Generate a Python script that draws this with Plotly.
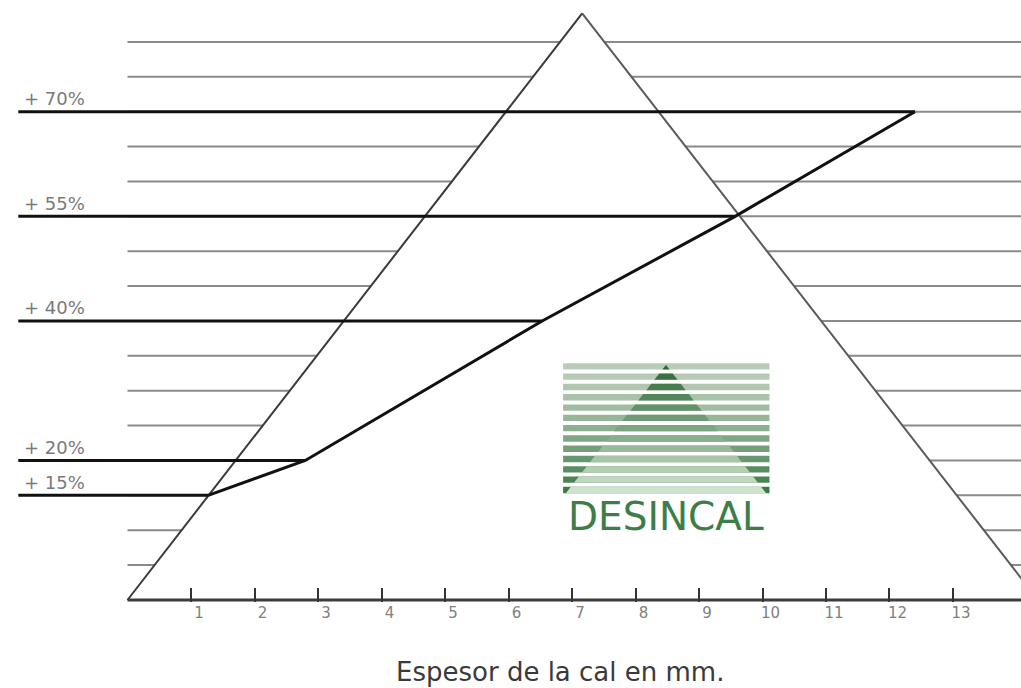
import plotly.graph_objects as go

# ---------------- data ----------------
grid_levels = [5, 10, 15, 20, 25, 30, 35, 40, 45, 50, 55, 60, 65, 70, 75, 80]   # % lines
label_levels = [15, 20, 40, 55, 70]
label_texts = ["+ 15%", "+ 20%", "+ 40%", "+ 55%", "+ 70%"]
curve_mm = [1.27, 2.80, 6.53, 9.57, 12.40]      # thickness of lime (mm)
curve_pct = [15, 20, 40, 55, 70]                # efficiency loss (%)
tri_mm = [0, 7.16, 14.34]
tri_pct = [0, 84.1, 0]
tick_vals = [1, 2, 3, 4, 5, 6, 7, 8, 9, 10, 11, 12, 13]
tick_text = ["1", "2", "3", "4", "5", "6", "7", "8", "9", "10", "11", "12", "13"]
x_title = "Espesor de la cal en mm."
brand = "DESINCAL"

# ---------------- layout constants ----------------
FIG_W, FIG_H = 1021, 688
MARGIN_B = 86
PLOT_H = FIG_H - MARGIN_B
X_RANGE = [-2.008, 14.071]
Y_RANGE = [-0.287, 86.02]
LINE_START = -1.72
GRID_END = 14.6
FONT = "DejaVu Sans"

fig = go.Figure()

# gray background grid lines (full width, hidden inside the triangle)
gx, gy = [], []
for lv in grid_levels:
    gx += [0, GRID_END, None]
    gy += [lv, lv, None]
fig.add_trace(go.Scatter(x=gx, y=gy, mode="lines",
                         line=dict(color="#8a8a8a", width=2),
                         hoverinfo="skip", showlegend=False))

# white triangle covering the grid
fig.add_trace(go.Scatter(x=tri_mm + [tri_mm[0]], y=tri_pct + [tri_pct[0]],
                         mode="lines", fill="toself", fillcolor="white",
                         line=dict(width=0, color="white"),
                         hoverinfo="skip", showlegend=False))
# triangle edges
fig.add_trace(go.Scatter(x=tri_mm[:2], y=tri_pct[:2], mode="lines",
                         line=dict(color="#3a3a3a", width=2),
                         hoverinfo="skip", showlegend=False))
fig.add_trace(go.Scatter(x=tri_mm[1:], y=tri_pct[1:], mode="lines",
                         line=dict(color="#5a5a5a", width=2),
                         hoverinfo="skip", showlegend=False))

# labelled black lines from the label to the curve
bx, by = [], []
for lv in label_levels:
    xe = curve_mm[curve_pct.index(lv)]
    bx += [LINE_START, xe, None]
    by += [lv, lv, None]
fig.add_trace(go.Scatter(x=bx, y=by, mode="lines",
                         line=dict(color="#111111", width=3),
                         hoverinfo="skip", showlegend=False))

# curve
fig.add_trace(go.Scatter(x=curve_mm, y=curve_pct, mode="lines",
                         line=dict(color="#111111", width=3),
                         hoverinfo="skip", showlegend=False))

# base axis line
fig.add_trace(go.Scatter(x=[0, GRID_END], y=[0, 0], mode="lines",
                         line=dict(color="#3c3c3c", width=3),
                         hoverinfo="skip", showlegend=False))

# label annotations
annotations = []
for lv, txt in zip(label_levels, label_texts):
    annotations.append(dict(x=-1.66, y=lv + 1.9, xref="x", yref="y", text=txt,
                            showarrow=False, xanchor="left", yanchor="middle",
                            font=dict(family=FONT, size=18, color="#7a7a7a")))

# x title
annotations.append(dict(x=560 / FIG_W, y=(PLOT_H - 672) / PLOT_H,
                        xref="paper", yref="paper",
                        text=x_title, showarrow=False, xanchor="center", yanchor="middle",
                        font=dict(family=FONT, size=26, color="#3a3a3a")))

# ---------------- logo (decoration) ----------------
LX0, LX1, LXC = 6.86, 10.11, 8.48
LY_TOP, LY_BOT, APEX = 33.95, 14.76, 33.7
N_STRIPES = 13
PERIOD = (LY_TOP - LY_BOT) / N_STRIPES
THICK = PERIOD * 0.62


def mix(c1, c2, t):
    a = [int(c1[i:i + 2], 16) for i in (1, 3, 5)]
    b = [int(c2[i:i + 2], 16) for i in (1, 3, 5)]
    return "#" + "".join(f"{round(a[k] + (b[k] - a[k]) * t):02x}" for k in range(3))


def half_w(y):
    return (APEX - y) / (APEX - LY_BOT) * (LX1 - LX0) / 2


shapes = []
for i in range(N_STRIPES):
    t = i / (N_STRIPES - 1)
    y1 = LY_TOP - i * PERIOD
    y0 = y1 - THICK
    outside = mix("#b9ccb8", "#3a7a45", t ** 1.5)
    inside = mix("#2a6835", "#cfe2cd", t)
    shapes.append(dict(type="rect", xref="x", yref="y", x0=LX0, x1=LX1, y0=y0, y1=y1,
                       fillcolor=outside, line=dict(width=0), layer="above"))
    yt = min(y1, APEX)
    if yt > y0:
        w0, w1 = half_w(y0), half_w(yt)
        path = (f"M {LXC - w0},{y0} L {LXC + w0},{y0} "
                f"L {LXC + w1},{yt} L {LXC - w1},{yt} Z")
        shapes.append(dict(type="path", xref="x", yref="y", path=path,
                           fillcolor=inside, line=dict(width=0), layer="above"))

annotations.append(dict(x=LXC, y=11.9, xref="x", yref="y", text=brand, showarrow=False,
                        xanchor="center", yanchor="middle",
                        font=dict(family=FONT, size=39, color="#3d7e48")))

fig.update_layout(
    width=FIG_W, height=FIG_H,
    margin=dict(l=0, r=0, t=0, b=MARGIN_B, pad=0),
    paper_bgcolor="white", plot_bgcolor="white",
    showlegend=False,
    xaxis=dict(range=X_RANGE, showgrid=False, zeroline=False, showline=False,
               tickmode="array", tickvals=tick_vals, ticktext=tick_text,
               ticks="inside", ticklen=14, tickwidth=2, tickcolor="#333333",
               ticklabelshift=8,
               tickfont=dict(family=FONT, size=15, color="#808080"),
               fixedrange=True),
    yaxis=dict(range=Y_RANGE, visible=False, fixedrange=True),
    shapes=shapes,
    annotations=annotations,
)

# place the figure flush with the page corner
fig.write_html("out.html",
               config={"displayModeBar": False},
               post_script="document.body.style.margin='0';"
                           "document.body.style.overflow='hidden';")
